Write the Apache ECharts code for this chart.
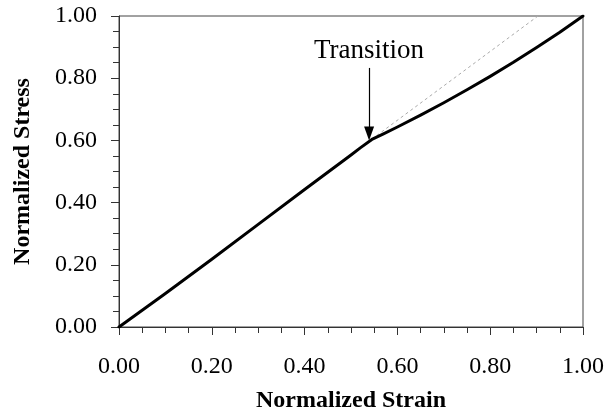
<!DOCTYPE html>
<html>
<head>
<meta charset="utf-8">
<script src="https://cdn.jsdelivr.net/npm/echarts@6/dist/echarts.min.js"></script>
<style>html,body{margin:0;padding:0;background:#fff}#c{width:605px;height:415px}</style>
</head>
<body>
<div id="c"></div>
<script>
const strain = [0, 0.10, 0.20, 0.30, 0.40, 0.50, 0.52, 0.545, 0.57, 0.60, 0.65, 0.70, 0.75, 0.80, 0.85, 0.90, 0.95, 1.00];
const stress = [0, 0.108, 0.218, 0.330, 0.442, 0.553, 0.576, 0.603, 0.621, 0.643, 0.681, 0.721, 0.763, 0.806, 0.851, 0.899, 0.948, 1.000];
const refStrain = [0.545, 0.903];
const refStress = [0.604, 1.000];
const arrowStrain = [0.539, 0.539];
const arrowStress = [0.833, 0.622];
const annotationText = 'Transition';
const xTitle = 'Normalized Strain';
const yTitle = 'Normalized Stress';

const font = 'Liberation Serif';
const chart = echarts.init(document.getElementById('c'));
const axisCommon = {
  type: 'value', min: 0, max: 1, interval: 0.2,
  axisLine: { show: true, lineStyle: { color: '#333', width: 1 } },
  axisTick: { show: true, inside: false, length: 8, lineStyle: { color: '#333' } },
  minorTick: { show: true, splitNumber: 4, length: 6, lineStyle: { color: '#333' } },
  splitLine: { show: false },
  minorSplitLine: { show: false },
  axisLabel: { fontFamily: font, fontSize: 24, color: '#000', formatter: v => v.toFixed(2) },
  nameLocation: 'middle',
  nameTextStyle: { fontFamily: font, fontSize: 24, fontWeight: 'bold', color: '#000' }
};
chart.setOption({
  animation: false,
  grid: { left: 119, top: 16, right: 22, bottom: 88, show: true, borderColor: '#444', borderWidth: 1, containLabel: false, outerBoundsMode: 'none' },
  xAxis: Object.assign({}, axisCommon, {
    name: xTitle, nameGap: 62,
    axisLabel: Object.assign({}, axisCommon.axisLabel, { margin: 28 })
  }),
  yAxis: Object.assign({}, axisCommon, {
    name: yTitle, nameGap: 84, nameRotate: 90,
    axisLabel: Object.assign({}, axisCommon.axisLabel, { margin: 22 })
  }),
  series: [
    {
      type: 'line', data: refStrain.map((x, i) => [x, refStress[i]]),
      symbol: 'none', lineStyle: { color: '#aaa', width: 1, type: [3, 3] }, z: 1
    },
    {
      type: 'line', data: strain.map((x, i) => [x, stress[i]]),
      symbol: 'none', lineStyle: { color: '#000', width: 3, join: 'round', cap: 'round' }, z: 3
    },
    {
      type: 'line', data: [], symbol: 'none',
      markLine: {
        silent: true, animation: false,
        symbol: ['none', 'triangle'], symbolSize: [10, 14],
        lineStyle: { color: '#000', width: 1.2, type: 'solid' },
        label: { show: true, position: 'start', formatter: annotationText, fontFamily: font, fontSize: 27, color: '#000', distance: 4 },
        data: [[{ coord: [arrowStrain[0], arrowStress[0]] }, { coord: [arrowStrain[1], arrowStress[1]] }]]
      }
    }
  ]
});
</script>
</body>
</html>
